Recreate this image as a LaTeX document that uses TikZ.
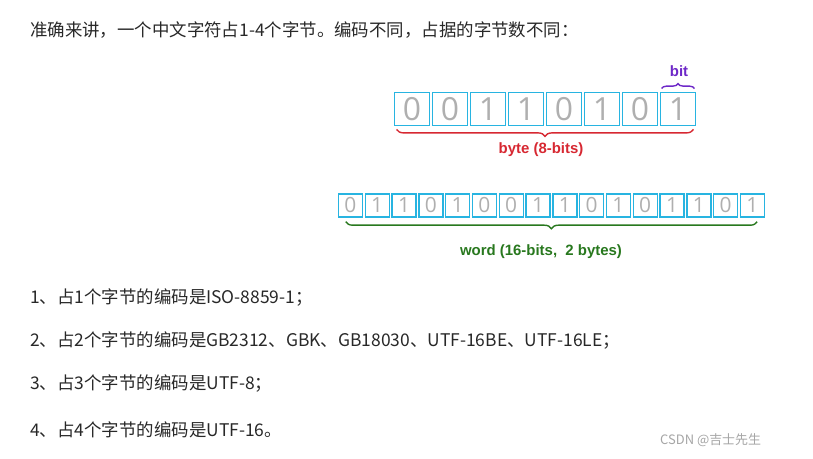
\documentclass[tikz,border=0pt]{standalone}
\usepackage{fontspec}
\setmainfont{Noto Sans CJK SC}
\newfontfamily\lat{Liberation Sans}
\newfontfamily\digit{Open Sans}
\usetikzlibrary{decorations.pathreplacing}
\definecolor{boxc}{RGB}{40,180,225}
\definecolor{digc}{RGB}{175,175,175}
\definecolor{redc}{RGB}{215,40,50}
\definecolor{greenc}{RGB}{40,120,30}
\definecolor{purc}{RGB}{110,40,200}
\definecolor{txt}{RGB}{40,40,40}
\tikzset{
 bitbox/.style={draw=boxc,line width=1.8pt,minimum width=35bp,minimum height=33bp,inner sep=0pt,font=\digit\fontsize{32}{32}\selectfont,text=digc},
 smallbit/.style={draw=boxc,line width=1.4pt,minimum width=24bp,minimum height=23bp,inner sep=0pt,font=\digit\fontsize{21}{21}\selectfont,text=digc},
 line/.style={anchor=west,font=\fontsize{17.5}{20}\selectfont,text=txt,inner sep=0pt},
 lab/.style={font=\lat\bfseries\fontsize{15}{17}\selectfont,inner sep=0pt},
 br/.style={decorate,decoration={brace,amplitude=7bp},line width=1.4pt}
}
\begin{document}
\begin{tikzpicture}[x=1bp,y=-1bp]
\useasboundingbox[fill=white] (0,0) rectangle (813,459);
\node[line] (t0) at (30,30) {准确来讲，一个中文字符占1-4个字节。编码不同，占据的字节数不同：};
\foreach \b [count=\i] in {0,0,1,1,0,1,0,1}{
  \node[bitbox] (a\i) at ({393+19+(\i-1)*38},109) {\b};
}
\draw[br,draw=redc] ([shift={(-3,3)}]a8.south east) -- ([shift={(3,3)}]a1.south west);
\node[lab,text=redc] (byte) at (541,150) {byte (8-bits)};
\draw[br,draw=purc,decoration={amplitude=5bp}] ([shift={(2,-3)}]a8.north west) -- ([shift={(-2,-3)}]a8.north east);
\node[lab,text=purc] (bit) at (679,71) {bit};
\foreach \b [count=\i] in {0,1,1,0,1,0,0,1,1,0,1,0,1,1,0,1}{
  \node[smallbit] (w\i) at ({337+13.4+(\i-1)*26.8},205.5) {\b};
}
\draw[br,draw=greenc] ([shift={(-8,4)}]w16.south east) -- ([shift={(8,4)}]w1.south west);
\node[lab,text=greenc] (word) at (541,252) {word (16-bits,\ \ 2 bytes)};
\node[line] (l1) at (30,298) {1、占1个字节的编码是ISO-8859-1；};
\node[line] (l2) at (30,341) {2、占2个字节的编码是GB2312、GBK、GB18030、UTF-16BE、UTF-16LE；};
\node[line] (l3) at (30,384) {3、占3个字节的编码是UTF-8；};
\node[line] (l4) at (30,430) {4、占4个字节的编码是UTF-16。};
\node[anchor=west,text=black!35,font=\fontsize{13}{15}\selectfont,inner sep=0pt] (wm) at (660,440) {CSDN @吉士先生};
\end{tikzpicture}
\end{document}
